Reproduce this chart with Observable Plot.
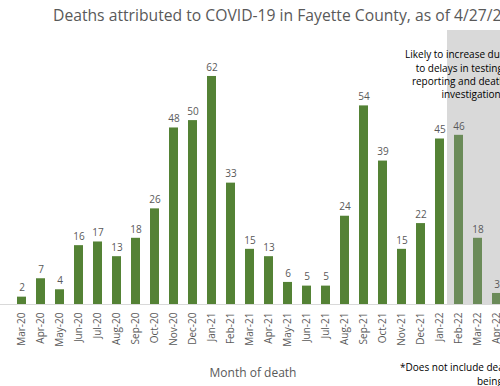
<!DOCTYPE html>
<html>
<head>
<meta charset="utf-8">
<script src="https://cdn.jsdelivr.net/npm/d3@7"></script>
<script src="https://cdn.jsdelivr.net/npm/@observablehq/plot@0.6"></script>
<style>
  html, body { margin: 0; padding: 0; background: #fff; overflow: hidden; width: 500px; height: 386px; }
  #wrap { position: relative; width: 500px; height: 386px; overflow: hidden; }
  #title { position: absolute; left: 53px; top: 4px; white-space: nowrap; font-family: "Open Sans", sans-serif; font-size: 15.7px; color: #595959; }
  #chart { position: absolute; left: 0; top: 30px; width: 517px; }
  #chart svg { max-width: none !important; }
  #xlabel { position: absolute; left: 153px; width: 200px; top: 365px; text-align: center; font-family: "Open Sans", sans-serif; font-size: 12px; line-height: 16px; color: #595959; }
  .foot { position: absolute; white-space: nowrap; font-family: "Open Sans", sans-serif; font-size: 10px; line-height: 14px; color: #000; }
</style>
</head>
<body>
<div id="wrap">
  <div id="title"></div>
  <div id="chart"></div>
  <div id="xlabel"></div>
  <div class="foot" id="foot1" style="left:400px; top:360px;"></div>
  <div class="foot" id="foot2" style="left:477px; top:374px;"></div>
</div>
<script>
const titleText = "Deaths attributed to COVID-19 in Fayette County, as of 4/27/22";
const months = ["Mar-20","Apr-20","May-20","Jun-20","Jul-20","Aug-20","Sep-20","Oct-20","Nov-20","Dec-20",
  "Jan-21","Feb-21","Mar-21","Apr-21","May-21","Jun-21","Jul-21","Aug-21","Sep-21","Oct-21","Nov-21","Dec-21",
  "Jan-22","Feb-22","Mar-22","Apr-22"];
const deaths = [2,7,4,16,17,13,18,26,48,50,62,33,15,13,6,5,5,24,54,39,15,22,45,46,18,3];
const shadedMonths = ["Feb-22","Mar-22","Apr-22"];
const noteLines = ["Likely to increase due", "to delays in testing,", "reporting and death", "investigations"];
const xLabel = "Month of death";
const footLines = ["*Does not include deaths currently", "being investigated"];

document.getElementById("title").textContent = titleText;
document.getElementById("xlabel").textContent = xLabel;
document.getElementById("foot1").textContent = footLines[0];
document.getElementById("foot2").textContent = footLines[1];

const data = months.map((m, i) => ({month: m, value: deaths[i], shaded: shadedMonths.includes(m)}));
const yMax = 74.5;

const chart = Plot.plot({
  width: 517,
  height: 356,
  marginTop: 0,
  marginBottom: 82,
  marginLeft: 0,
  marginRight: 0,
  style: {fontFamily: "Open Sans, sans-serif", fontSize: "10px", color: "#595959", background: "transparent", maxWidth: "none"},
  x: {domain: months, paddingInner: 0.55, paddingOuter: 0.71, label: null},
  y: {domain: [0, yMax], axis: null},
  marks: [
    Plot.barY(shadedMonths, {x: d => d, y1: d => 0, y2: d => yMax, fill: "#d9d9d9", insetLeft: -7, insetRight: -6}),
    Plot.ruleY([0], {stroke: "#d9d9d9", strokeWidth: 1}),
    Plot.barY(data, {x: "month", y: "value", fill: d => d.shaded ? "#6b8b59" : "#548235"}),
    Plot.text(data, {x: "month", y: "value", text: d => String(d.value), dy: -9, fill: "#595959", fontSize: 10}),
    Plot.axisX({tickSize: 0, tickPadding: 8, tickRotate: -90, fontSize: 10, fill: "#595959", label: null}),
    Plot.text([noteLines.join("\n")], {frameAnchor: "top-right", dx: -12, dy: 18.5, textAnchor: "end", lineAnchor: "top", lineHeight: 1.33, fontSize: 10, fill: "#000"})
  ]
});
document.getElementById("chart").appendChild(chart);
</script>
</body>
</html>
